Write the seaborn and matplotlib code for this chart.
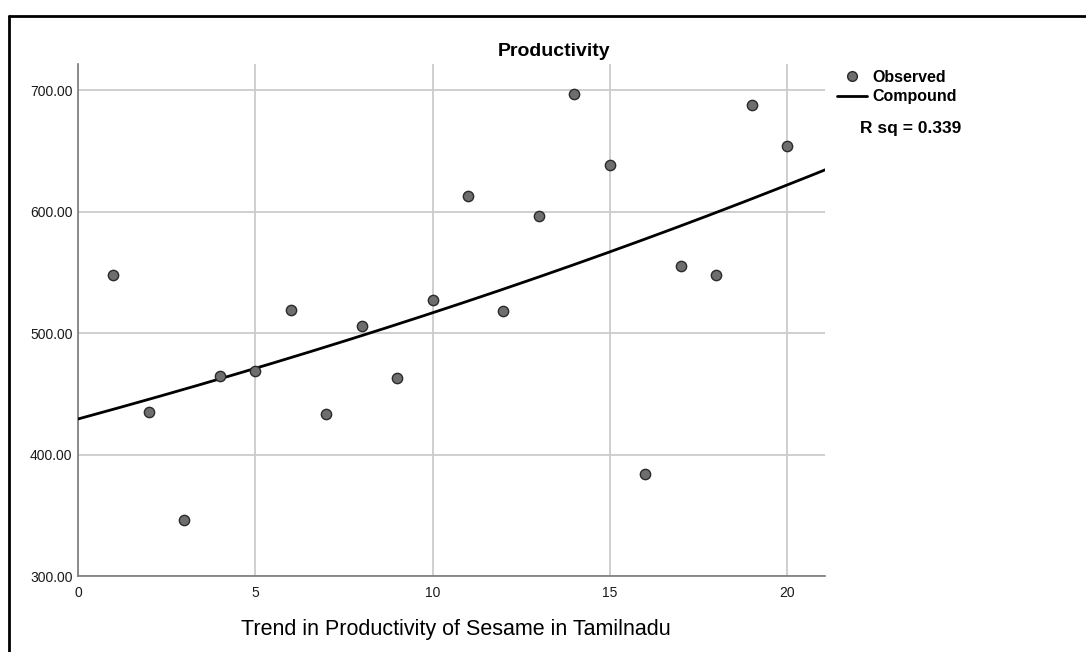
import numpy as np
import pandas as pd
import matplotlib
matplotlib.use("Agg")
import matplotlib.pyplot as plt
from matplotlib.lines import Line2D
import seaborn as sns

# data
years = list(range(1, 21))
productivity = [548, 435, 346, 465, 469, 519, 433, 506, 463, 527,
                613, 518, 596, 697, 638, 384, 555, 548, 688, 654]
y_ticks = [300, 400, 500, 600, 700]
x_ticks = [0, 5, 10, 15, 20]

df = pd.DataFrame({"Trend": years, "Productivity": productivity})

# compound model  y = b0 * b1^t  (linear fit on log y)
logy = np.log(df["Productivity"])
b, a = np.polyfit(df["Trend"], logy, 1)
resid = logy - (a + b * df["Trend"])
r2 = 1 - (resid ** 2).sum() / ((logy - logy.mean()) ** 2).sum()
t_fit = np.linspace(0, 21.1, 200)
fit = pd.DataFrame({"Trend": t_fit, "Productivity": np.exp(a + b * t_fit)})

sns.set_style("white")
plt.rcParams["font.family"] = ["Liberation Sans", "DejaVu Sans"]
plt.rcParams["text.color"] = "black"

W, H = 1086, 652
fig = plt.figure(figsize=(W / 100, H / 100), dpi=100)
ax = fig.add_axes([78 / W, 1 - 576 / H, (825 - 78) / W, (576 - 64) / H])

ax.grid(True, color="#cccccc", linewidth=1.3)
ax.set_axisbelow(True)

sns.lineplot(data=fit, x="Trend", y="Productivity", color="black", linewidth=2.0, ax=ax, zorder=3)
sns.scatterplot(data=df, x="Trend", y="Productivity", color="#6e6e6e", edgecolor="#2a2a2a",
                linewidth=1.0, s=55, ax=ax, zorder=4)

ax.set_xlim(0, 21.07)
ax.set_ylim(300, 721.4)
ax.set_xticks(x_ticks)
ax.set_yticks(y_ticks)
ax.set_yticklabels([f"{v:.2f}" for v in y_ticks], fontsize=10, color="#1a1a1a")
ax.set_xticklabels([str(v) for v in x_ticks], fontsize=10, color="#1a1a1a",
                   family=["Liberation Sans Narrow", "Liberation Sans"])
ax.tick_params(axis="y", length=0, pad=4)
ax.tick_params(axis="x", length=0, pad=7)
ax.set_xlabel("")
ax.set_ylabel("")
for s in ["top", "right"]:
    ax.spines[s].set_visible(False)
for s in ["left", "bottom"]:
    ax.spines[s].set_color("#7a7a7a")
    ax.spines[s].set_linewidth(1.2)

fig.text(554 / W, 1 - 51 / H, "Productivity", ha="center", va="center",
         fontsize=14, fontweight="bold", color="black")
fig.text(456 / W, 1 - 629 / H, "Trend in Productivity of Sesame in Tamilnadu",
         ha="center", va="center", fontsize=15.5, color="black")

# legend
fig.add_artist(Line2D([852 / W], [1 - 76 / H], marker="o", markersize=7,
                      markerfacecolor="#6e6e6e", markeredgecolor="#2a2a2a", linestyle="none"))
fig.add_artist(Line2D([837 / W, 867 / W], [1 - 96 / H, 1 - 96 / H], color="black", linewidth=2.0))
narrow = ["Liberation Sans Narrow", "Liberation Sans"]
fig.text(872 / W, 1 - 77 / H, "Observed", ha="left", va="center", fontsize=11.5,
         fontweight="bold", family=narrow, color="black")
fig.text(872 / W, 1 - 97 / H, "Compound", ha="left", va="center", fontsize=11.5,
         fontweight="bold", family=narrow, color="black")
fig.text(860 / W, 1 - 129 / H, f"R sq = {r2:.3f}", ha="left", va="center",
         fontsize=12.5, fontweight="bold", color="black")

# outer frame (top and left edges)
fig.add_artist(Line2D([9 / W, 1], [1 - 16 / H, 1 - 16 / H], color="black", linewidth=2))
fig.add_artist(Line2D([9 / W, 9 / W], [0, 1 - 16 / H], color="black", linewidth=2))

fig.savefig("out.png", dpi=100)
